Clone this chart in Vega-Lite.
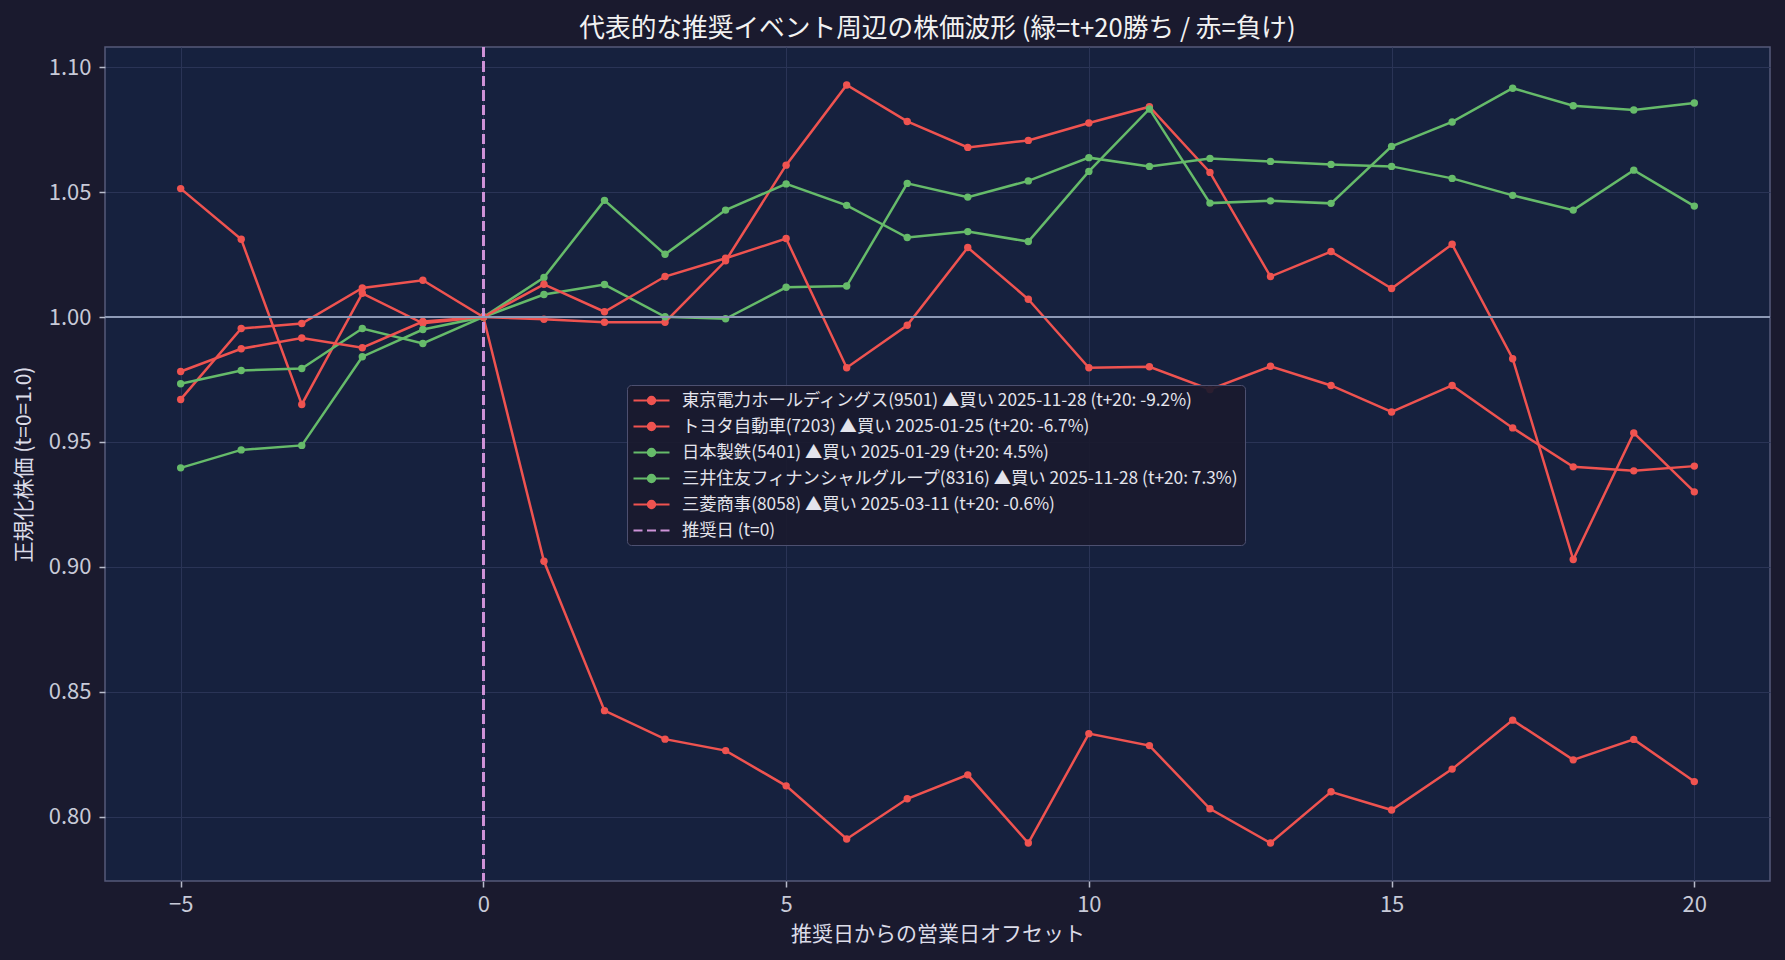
{
  "$schema": "https://vega.github.io/schema/vega-lite/v6.json",
  "width": 1665,
  "height": 834,
  "autosize": {"type": "none"},
  "padding": {"left": 105, "top": 47, "right": 15, "bottom": 79},
  "background": "#1a1a2e",
  "config": {
    "font": "Noto Sans CJK JP",
    "view": {"fill": "#16213e", "stroke": "#55597a", "strokeWidth": 1.5},
    "axis": {
      "domain": false,
      "grid": true,
      "gridColor": "#2a3456",
      "gridWidth": 1,
      "tickColor": "#b8bccc",
      "tickSize": 6,
      "tickWidth": 1.5,
      "labelColor": "#c8cad8",
      "labelFontSize": 22,
      "labelFont": "Noto Sans CJK JP",
      "titleColor": "#dcdce8",
      "titleFontSize": 21,
      "titleFont": "Noto Sans CJK JP",
      "titleFontWeight": "normal"
    }
  },
  "title": {
    "text": "代表的な推奨イベント周辺の株価波形 (緑=t+20勝ち / 赤=負け)",
    "color": "#f2f2f2",
    "fontSize": 25.7,
    "font": "Noto Sans CJK JP",
    "fontWeight": "normal",
    "anchor": "middle",
    "offset": 4
  },
  "data": {
    "values": [
      {"name": "東京電力ホールディングス(9501) ▲買い 2025-11-28 (t+20: -9.2%)", "t": -5, "v": 1.0514},
      {"name": "東京電力ホールディングス(9501) ▲買い 2025-11-28 (t+20: -9.2%)", "t": -4, "v": 1.0311},
      {"name": "東京電力ホールディングス(9501) ▲買い 2025-11-28 (t+20: -9.2%)", "t": -3, "v": 0.9650},
      {"name": "東京電力ホールディングス(9501) ▲買い 2025-11-28 (t+20: -9.2%)", "t": -2, "v": 1.0095},
      {"name": "東京電力ホールディングス(9501) ▲買い 2025-11-28 (t+20: -9.2%)", "t": -1, "v": 0.9975},
      {"name": "東京電力ホールディングス(9501) ▲買い 2025-11-28 (t+20: -9.2%)", "t": 0, "v": 1.0},
      {"name": "東京電力ホールディングス(9501) ▲買い 2025-11-28 (t+20: -9.2%)", "t": 1, "v": 0.9022},
      {"name": "東京電力ホールディングス(9501) ▲買い 2025-11-28 (t+20: -9.2%)", "t": 2, "v": 0.8424},
      {"name": "東京電力ホールディングス(9501) ▲買い 2025-11-28 (t+20: -9.2%)", "t": 3, "v": 0.8310},
      {"name": "東京電力ホールディングス(9501) ▲買い 2025-11-28 (t+20: -9.2%)", "t": 4, "v": 0.8264},
      {"name": "東京電力ホールディングス(9501) ▲買い 2025-11-28 (t+20: -9.2%)", "t": 5, "v": 0.8123},
      {"name": "東京電力ホールディングス(9501) ▲買い 2025-11-28 (t+20: -9.2%)", "t": 6, "v": 0.7910},
      {"name": "東京電力ホールディングス(9501) ▲買い 2025-11-28 (t+20: -9.2%)", "t": 7, "v": 0.8071},
      {"name": "東京電力ホールディングス(9501) ▲買い 2025-11-28 (t+20: -9.2%)", "t": 8, "v": 0.8167},
      {"name": "東京電力ホールディングス(9501) ▲買い 2025-11-28 (t+20: -9.2%)", "t": 9, "v": 0.7894},
      {"name": "東京電力ホールディングス(9501) ▲買い 2025-11-28 (t+20: -9.2%)", "t": 10, "v": 0.8332},
      {"name": "東京電力ホールディングス(9501) ▲買い 2025-11-28 (t+20: -9.2%)", "t": 11, "v": 0.8284},
      {"name": "東京電力ホールディングス(9501) ▲買い 2025-11-28 (t+20: -9.2%)", "t": 12, "v": 0.8031},
      {"name": "東京電力ホールディングス(9501) ▲買い 2025-11-28 (t+20: -9.2%)", "t": 13, "v": 0.7894},
      {"name": "東京電力ホールディングス(9501) ▲買い 2025-11-28 (t+20: -9.2%)", "t": 14, "v": 0.8099},
      {"name": "東京電力ホールディングス(9501) ▲買い 2025-11-28 (t+20: -9.2%)", "t": 15, "v": 0.8026},
      {"name": "東京電力ホールディングス(9501) ▲買い 2025-11-28 (t+20: -9.2%)", "t": 16, "v": 0.8190},
      {"name": "東京電力ホールディングス(9501) ▲買い 2025-11-28 (t+20: -9.2%)", "t": 17, "v": 0.8386},
      {"name": "東京電力ホールディングス(9501) ▲買い 2025-11-28 (t+20: -9.2%)", "t": 18, "v": 0.8227},
      {"name": "東京電力ホールディングス(9501) ▲買い 2025-11-28 (t+20: -9.2%)", "t": 19, "v": 0.8309},
      {"name": "東京電力ホールディングス(9501) ▲買い 2025-11-28 (t+20: -9.2%)", "t": 20, "v": 0.8140},

      {"name": "トヨタ自動車(7203) ▲買い 2025-01-25 (t+20: -6.7%)", "t": -5, "v": 0.9670},
      {"name": "トヨタ自動車(7203) ▲買い 2025-01-25 (t+20: -6.7%)", "t": -4, "v": 0.9954},
      {"name": "トヨタ自動車(7203) ▲買い 2025-01-25 (t+20: -6.7%)", "t": -3, "v": 0.9974},
      {"name": "トヨタ自動車(7203) ▲買い 2025-01-25 (t+20: -6.7%)", "t": -2, "v": 1.0116},
      {"name": "トヨタ自動車(7203) ▲買い 2025-01-25 (t+20: -6.7%)", "t": -1, "v": 1.0147},
      {"name": "トヨタ自動車(7203) ▲買い 2025-01-25 (t+20: -6.7%)", "t": 0, "v": 1.0},
      {"name": "トヨタ自動車(7203) ▲買い 2025-01-25 (t+20: -6.7%)", "t": 1, "v": 0.9991},
      {"name": "トヨタ自動車(7203) ▲買い 2025-01-25 (t+20: -6.7%)", "t": 2, "v": 0.9979},
      {"name": "トヨタ自動車(7203) ▲買い 2025-01-25 (t+20: -6.7%)", "t": 3, "v": 0.9979},
      {"name": "トヨタ自動車(7203) ▲買い 2025-01-25 (t+20: -6.7%)", "t": 4, "v": 1.0225},
      {"name": "トヨタ自動車(7203) ▲買い 2025-01-25 (t+20: -6.7%)", "t": 5, "v": 1.0608},
      {"name": "トヨタ自動車(7203) ▲買い 2025-01-25 (t+20: -6.7%)", "t": 6, "v": 1.0929},
      {"name": "トヨタ自動車(7203) ▲買い 2025-01-25 (t+20: -6.7%)", "t": 7, "v": 1.0783},
      {"name": "トヨタ自動車(7203) ▲買い 2025-01-25 (t+20: -6.7%)", "t": 8, "v": 1.0679},
      {"name": "トヨタ自動車(7203) ▲買い 2025-01-25 (t+20: -6.7%)", "t": 9, "v": 1.0707},
      {"name": "トヨタ自動車(7203) ▲買い 2025-01-25 (t+20: -6.7%)", "t": 10, "v": 1.0777},
      {"name": "トヨタ自動車(7203) ▲買い 2025-01-25 (t+20: -6.7%)", "t": 11, "v": 1.0842},
      {"name": "トヨタ自動車(7203) ▲買い 2025-01-25 (t+20: -6.7%)", "t": 12, "v": 1.0579},
      {"name": "トヨタ自動車(7203) ▲買い 2025-01-25 (t+20: -6.7%)", "t": 13, "v": 1.0162},
      {"name": "トヨタ自動車(7203) ▲買い 2025-01-25 (t+20: -6.7%)", "t": 14, "v": 1.0262},
      {"name": "トヨタ自動車(7203) ▲買い 2025-01-25 (t+20: -6.7%)", "t": 15, "v": 1.0114},
      {"name": "トヨタ自動車(7203) ▲買い 2025-01-25 (t+20: -6.7%)", "t": 16, "v": 1.0291},
      {"name": "トヨタ自動車(7203) ▲買い 2025-01-25 (t+20: -6.7%)", "t": 17, "v": 0.9833},
      {"name": "トヨタ自動車(7203) ▲買い 2025-01-25 (t+20: -6.7%)", "t": 18, "v": 0.9029},
      {"name": "トヨタ自動車(7203) ▲買い 2025-01-25 (t+20: -6.7%)", "t": 19, "v": 0.9536},
      {"name": "トヨタ自動車(7203) ▲買い 2025-01-25 (t+20: -6.7%)", "t": 20, "v": 0.9300},

      {"name": "日本製鉄(5401) ▲買い 2025-01-29 (t+20: 4.5%)", "t": -5, "v": 0.9396},
      {"name": "日本製鉄(5401) ▲買い 2025-01-29 (t+20: 4.5%)", "t": -4, "v": 0.9468},
      {"name": "日本製鉄(5401) ▲買い 2025-01-29 (t+20: 4.5%)", "t": -3, "v": 0.9486},
      {"name": "日本製鉄(5401) ▲買い 2025-01-29 (t+20: 4.5%)", "t": -2, "v": 0.9841},
      {"name": "日本製鉄(5401) ▲買い 2025-01-29 (t+20: 4.5%)", "t": -1, "v": 0.9950},
      {"name": "日本製鉄(5401) ▲買い 2025-01-29 (t+20: 4.5%)", "t": 0, "v": 1.0},
      {"name": "日本製鉄(5401) ▲買い 2025-01-29 (t+20: 4.5%)", "t": 1, "v": 1.0090},
      {"name": "日本製鉄(5401) ▲買い 2025-01-29 (t+20: 4.5%)", "t": 2, "v": 1.0130},
      {"name": "日本製鉄(5401) ▲買い 2025-01-29 (t+20: 4.5%)", "t": 3, "v": 1.0001},
      {"name": "日本製鉄(5401) ▲買い 2025-01-29 (t+20: 4.5%)", "t": 4, "v": 0.9993},
      {"name": "日本製鉄(5401) ▲買い 2025-01-29 (t+20: 4.5%)", "t": 5, "v": 1.0119},
      {"name": "日本製鉄(5401) ▲買い 2025-01-29 (t+20: 4.5%)", "t": 6, "v": 1.0124},
      {"name": "日本製鉄(5401) ▲買い 2025-01-29 (t+20: 4.5%)", "t": 7, "v": 1.0535},
      {"name": "日本製鉄(5401) ▲買い 2025-01-29 (t+20: 4.5%)", "t": 8, "v": 1.0480},
      {"name": "日本製鉄(5401) ▲買い 2025-01-29 (t+20: 4.5%)", "t": 9, "v": 1.0545},
      {"name": "日本製鉄(5401) ▲買い 2025-01-29 (t+20: 4.5%)", "t": 10, "v": 1.0638},
      {"name": "日本製鉄(5401) ▲買い 2025-01-29 (t+20: 4.5%)", "t": 11, "v": 1.0603},
      {"name": "日本製鉄(5401) ▲買い 2025-01-29 (t+20: 4.5%)", "t": 12, "v": 1.0635},
      {"name": "日本製鉄(5401) ▲買い 2025-01-29 (t+20: 4.5%)", "t": 13, "v": 1.0623},
      {"name": "日本製鉄(5401) ▲買い 2025-01-29 (t+20: 4.5%)", "t": 14, "v": 1.0611},
      {"name": "日本製鉄(5401) ▲買い 2025-01-29 (t+20: 4.5%)", "t": 15, "v": 1.0603},
      {"name": "日本製鉄(5401) ▲買い 2025-01-29 (t+20: 4.5%)", "t": 16, "v": 1.0555},
      {"name": "日本製鉄(5401) ▲買い 2025-01-29 (t+20: 4.5%)", "t": 17, "v": 1.0487},
      {"name": "日本製鉄(5401) ▲買い 2025-01-29 (t+20: 4.5%)", "t": 18, "v": 1.0428},
      {"name": "日本製鉄(5401) ▲買い 2025-01-29 (t+20: 4.5%)", "t": 19, "v": 1.0588},
      {"name": "日本製鉄(5401) ▲買い 2025-01-29 (t+20: 4.5%)", "t": 20, "v": 1.0444},

      {"name": "三井住友フィナンシャルグループ(8316) ▲買い 2025-11-28 (t+20: 7.3%)", "t": -5, "v": 0.9733},
      {"name": "三井住友フィナンシャルグループ(8316) ▲買い 2025-11-28 (t+20: 7.3%)", "t": -4, "v": 0.9786},
      {"name": "三井住友フィナンシャルグループ(8316) ▲買い 2025-11-28 (t+20: 7.3%)", "t": -3, "v": 0.9794},
      {"name": "三井住友フィナンシャルグループ(8316) ▲買い 2025-11-28 (t+20: 7.3%)", "t": -2, "v": 0.9954},
      {"name": "三井住友フィナンシャルグループ(8316) ▲買い 2025-11-28 (t+20: 7.3%)", "t": -1, "v": 0.9894},
      {"name": "三井住友フィナンシャルグループ(8316) ▲買い 2025-11-28 (t+20: 7.3%)", "t": 0, "v": 1.0},
      {"name": "三井住友フィナンシャルグループ(8316) ▲買い 2025-11-28 (t+20: 7.3%)", "t": 1, "v": 1.0158},
      {"name": "三井住友フィナンシャルグループ(8316) ▲買い 2025-11-28 (t+20: 7.3%)", "t": 2, "v": 1.0467},
      {"name": "三井住友フィナンシャルグループ(8316) ▲買い 2025-11-28 (t+20: 7.3%)", "t": 3, "v": 1.0251},
      {"name": "三井住友フィナンシャルグループ(8316) ▲買い 2025-11-28 (t+20: 7.3%)", "t": 4, "v": 1.0428},
      {"name": "三井住友フィナンシャルグループ(8316) ▲買い 2025-11-28 (t+20: 7.3%)", "t": 5, "v": 1.0533},
      {"name": "三井住友フィナンシャルグループ(8316) ▲買い 2025-11-28 (t+20: 7.3%)", "t": 6, "v": 1.0447},
      {"name": "三井住友フィナンシャルグループ(8316) ▲買い 2025-11-28 (t+20: 7.3%)", "t": 7, "v": 1.0318},
      {"name": "三井住友フィナンシャルグループ(8316) ▲買い 2025-11-28 (t+20: 7.3%)", "t": 8, "v": 1.0342},
      {"name": "三井住友フィナンシャルグループ(8316) ▲買い 2025-11-28 (t+20: 7.3%)", "t": 9, "v": 1.0302},
      {"name": "三井住友フィナンシャルグループ(8316) ▲買い 2025-11-28 (t+20: 7.3%)", "t": 10, "v": 1.0583},
      {"name": "三井住友フィナンシャルグループ(8316) ▲買い 2025-11-28 (t+20: 7.3%)", "t": 11, "v": 1.0833},
      {"name": "三井住友フィナンシャルグループ(8316) ▲買い 2025-11-28 (t+20: 7.3%)", "t": 12, "v": 1.0456},
      {"name": "三井住友フィナンシャルグループ(8316) ▲買い 2025-11-28 (t+20: 7.3%)", "t": 13, "v": 1.0465},
      {"name": "三井住友フィナンシャルグループ(8316) ▲買い 2025-11-28 (t+20: 7.3%)", "t": 14, "v": 1.0455},
      {"name": "三井住友フィナンシャルグループ(8316) ▲買い 2025-11-28 (t+20: 7.3%)", "t": 15, "v": 1.0683},
      {"name": "三井住友フィナンシャルグループ(8316) ▲買い 2025-11-28 (t+20: 7.3%)", "t": 16, "v": 1.0781},
      {"name": "三井住友フィナンシャルグループ(8316) ▲買い 2025-11-28 (t+20: 7.3%)", "t": 17, "v": 1.0916},
      {"name": "三井住友フィナンシャルグループ(8316) ▲買い 2025-11-28 (t+20: 7.3%)", "t": 18, "v": 1.0846},
      {"name": "三井住友フィナンシャルグループ(8316) ▲買い 2025-11-28 (t+20: 7.3%)", "t": 19, "v": 1.0829},
      {"name": "三井住友フィナンシャルグループ(8316) ▲買い 2025-11-28 (t+20: 7.3%)", "t": 20, "v": 1.0857},

      {"name": "三菱商事(8058) ▲買い 2025-03-11 (t+20: -0.6%)", "t": -5, "v": 0.9782},
      {"name": "三菱商事(8058) ▲買い 2025-03-11 (t+20: -0.6%)", "t": -4, "v": 0.9873},
      {"name": "三菱商事(8058) ▲買い 2025-03-11 (t+20: -0.6%)", "t": -3, "v": 0.9916},
      {"name": "三菱商事(8058) ▲買い 2025-03-11 (t+20: -0.6%)", "t": -2, "v": 0.9877},
      {"name": "三菱商事(8058) ▲買い 2025-03-11 (t+20: -0.6%)", "t": -1, "v": 0.9982},
      {"name": "三菱商事(8058) ▲買い 2025-03-11 (t+20: -0.6%)", "t": 0, "v": 1.0},
      {"name": "三菱商事(8058) ▲買い 2025-03-11 (t+20: -0.6%)", "t": 1, "v": 1.0131},
      {"name": "三菱商事(8058) ▲買い 2025-03-11 (t+20: -0.6%)", "t": 2, "v": 1.0021},
      {"name": "三菱商事(8058) ▲買い 2025-03-11 (t+20: -0.6%)", "t": 3, "v": 1.0162},
      {"name": "三菱商事(8058) ▲買い 2025-03-11 (t+20: -0.6%)", "t": 4, "v": 1.0235},
      {"name": "三菱商事(8058) ▲買い 2025-03-11 (t+20: -0.6%)", "t": 5, "v": 1.0314},
      {"name": "三菱商事(8058) ▲買い 2025-03-11 (t+20: -0.6%)", "t": 6, "v": 0.9797},
      {"name": "三菱商事(8058) ▲買い 2025-03-11 (t+20: -0.6%)", "t": 7, "v": 0.9967},
      {"name": "三菱商事(8058) ▲買い 2025-03-11 (t+20: -0.6%)", "t": 8, "v": 1.0278},
      {"name": "三菱商事(8058) ▲買い 2025-03-11 (t+20: -0.6%)", "t": 9, "v": 1.0071},
      {"name": "三菱商事(8058) ▲買い 2025-03-11 (t+20: -0.6%)", "t": 10, "v": 0.9797},
      {"name": "三菱商事(8058) ▲買い 2025-03-11 (t+20: -0.6%)", "t": 11, "v": 0.9801},
      {"name": "三菱商事(8058) ▲買い 2025-03-11 (t+20: -0.6%)", "t": 12, "v": 0.9710},
      {"name": "三菱商事(8058) ▲買い 2025-03-11 (t+20: -0.6%)", "t": 13, "v": 0.9803},
      {"name": "三菱商事(8058) ▲買い 2025-03-11 (t+20: -0.6%)", "t": 14, "v": 0.9726},
      {"name": "三菱商事(8058) ▲買い 2025-03-11 (t+20: -0.6%)", "t": 15, "v": 0.9620},
      {"name": "三菱商事(8058) ▲買い 2025-03-11 (t+20: -0.6%)", "t": 16, "v": 0.9726},
      {"name": "三菱商事(8058) ▲買い 2025-03-11 (t+20: -0.6%)", "t": 17, "v": 0.9556},
      {"name": "三菱商事(8058) ▲買い 2025-03-11 (t+20: -0.6%)", "t": 18, "v": 0.9400},
      {"name": "三菱商事(8058) ▲買い 2025-03-11 (t+20: -0.6%)", "t": 19, "v": 0.9384},
      {"name": "三菱商事(8058) ▲買い 2025-03-11 (t+20: -0.6%)", "t": 20, "v": 0.9403}
    ]
  },
  "encoding": {
    "x": {
      "field": "t",
      "type": "quantitative",
      "scale": {"domain": [-6.25, 21.25], "nice": false, "zero": false},
      "axis": {"title": "推奨日からの営業日オフセット", "values": [-5, 0, 5, 10, 15, 20], "format": "d", "labelPadding": 7, "titlePadding": 8}
    },
    "y": {
      "field": "v",
      "type": "quantitative",
      "scale": {"domain": [0.7742, 1.1081], "nice": false, "zero": false},
      "axis": {"title": "正規化株価 (t=0=1.0)", "values": [0.8, 0.85, 0.9, 0.95, 1.0, 1.05, 1.1], "format": ".2f", "labelPadding": 8, "titlePadding": 14}
    }
  },
  "layer": [
    {
      "mark": {"type": "line", "strokeWidth": 2.5, "point": {"filled": true, "size": 55}},
      "encoding": {
        "color": {
          "field": "name",
          "type": "nominal",
          "scale": {
            "domain": [
              "東京電力ホールディングス(9501) ▲買い 2025-11-28 (t+20: -9.2%)",
              "トヨタ自動車(7203) ▲買い 2025-01-25 (t+20: -6.7%)",
              "日本製鉄(5401) ▲買い 2025-01-29 (t+20: 4.5%)",
              "三井住友フィナンシャルグループ(8316) ▲買い 2025-11-28 (t+20: 7.3%)",
              "三菱商事(8058) ▲買い 2025-03-11 (t+20: -0.6%)",
              "推奨日 (t=0)"
            ],
            "range": ["#ef5350", "#ef5350", "#66bb6a", "#66bb6a", "#ef5350", "#ce93d8"]
          },
          "legend": {
            "title": null,
            "orient": "none",
            "legendX": 522,
            "legendY": 338,
            "fillColor": "rgba(26,26,46,0.92)",
            "strokeColor": "#4d5070",
            "cornerRadius": 4,
            "padding": 6,
            "labelFontSize": 17.3,
            "labelColor": "#e4e4ec",
            "labelFont": "Noto Sans CJK JP",
            "labelLimit": 1000,
            "symbolSize": 256,
            "symbolOffset": 9,
            "labelOffset": 21,
            "rowPadding": 8,
            "symbolStrokeWidth": 2,
            "symbolLimit": 10,
            "encode": {
              "symbols": {
                "update": {
                  "shape": {"signal": "datum.index === 5 ? 'M-2.25,0L-1.125,0M-0.5625,0L0.5625,0M1.125,0L2.25,0' : 'M-2.25,0L2.25,0M0.45,0A0.45,0.45,0,1,1,-0.45,0A0.45,0.45,0,1,1,0.45,0Z'"},
                  "fill": {"scale": "color", "field": "value"},
                  "stroke": {"scale": "color", "field": "value"},
                  "strokeWidth": {"value": 2.2},
                  "opacity": {"value": 1}
                }
              }
            }
          }
        }
      }
    },
    {
      "mark": {"type": "rule", "color": "#ce93d8", "strokeWidth": 1.6, "strokeDash": [10, 4.5]},
      "encoding": {"x": {"datum": 0}, "y": null}
    },
    {
      "mark": {"type": "rule", "color": "#8e9ab6", "strokeWidth": 1.8},
      "encoding": {"y": {"datum": 1.0}, "x": null}
    }
  ]
}
